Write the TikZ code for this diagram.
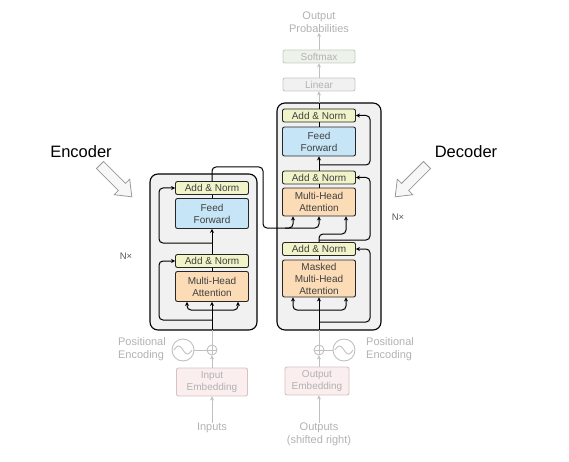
\documentclass[tikz,border=0pt]{standalone}
\usepackage{fontspec}
\setmainfont{Liberation Sans}
\usetikzlibrary{arrows.meta, calc}

\definecolor{stackfill}{HTML}{F1F1F1}
\definecolor{normfill}{HTML}{F0F4C8}
\definecolor{fffill}{HTML}{C6E5F6}
\definecolor{mhafill}{HTML}{FBDCB6}
\definecolor{ghostline}{HTML}{C0C0C0}
\definecolor{ghosttext}{HTML}{B2B2B2}
\definecolor{linfill}{HTML}{F1F1F1}
\definecolor{lindraw}{HTML}{C8C8C8}
\definecolor{softfill}{HTML}{EDF3EA}
\definecolor{softdraw}{HTML}{C5CEC2}
\definecolor{embfill}{HTML}{FBEEEE}
\definecolor{embdraw}{HTML}{D8C2C2}

\tikzset{
  layer/.style={draw=black!85, line width=0.9pt, rounded corners=2pt, inner sep=0pt,
    align=center, text=black!75, font=\fontsize{10}{12}\selectfont, minimum width=73pt},
  addnorm/.style={layer, fill=normfill, minimum height=13pt},
  ffbox/.style={layer, fill=fffill, minimum height=30pt},
  mhabox/.style={layer, fill=mhafill, minimum height=30pt},
  fadebox/.style={draw=lindraw, line width=0.9pt, rounded corners=2pt, inner sep=0pt,
    align=center, text=ghosttext, font=\fontsize{10}{12}\selectfont, minimum width=72pt},
  ghostlabel/.style={text=ghosttext, align=center, inner sep=0pt, font=\fontsize{11}{13.5}\selectfont},
  stack/.style={draw=black, line width=1.1pt, fill=stackfill, rounded corners=8pt},
  line/.style={line width=1pt},
  arr/.style={line, rounded corners=4pt, -{Stealth[length=4pt,width=4pt]}},
  ghost/.style={line, color=ghostline},
  ghostarr/.style={ghost, -{Stealth[length=4pt,width=4pt]}},
  addcirc/.style={circle, draw=ghostline, line width=0.9pt, minimum size=10pt, inner sep=0pt,
    path picture={\draw[ghostline, line width=0.8pt]
      (path picture bounding box.north) -- (path picture bounding box.south)
      (path picture bounding box.west) -- (path picture bounding box.east);}},
  pecirc/.style={circle, draw=ghostline, line width=0.9pt, minimum size=22pt, inner sep=0pt},
  nx/.style={text=black!65, font=\fontsize{9.5}{11}\selectfont},
  biglabel/.style={font=\fontsize{16.5}{19}\selectfont},
  hollow/.style={draw=black!40, fill=black!3, line width=0.8pt, line join=miter},
}

\begin{document}
\begin{tikzpicture}[x=1pt, y=-1pt]
  \useasboundingbox (0,0) rectangle (569,462);

  % the two stacks
  \draw[stack] (150,174) rectangle (257,330);
  \draw[stack] (277,103) rectangle (381,330);

  % encoder layer
  \node[addnorm] (encAN2) at (212,188) {Add \& Norm};
  \node[ffbox] (encFF) at (212,213.5) {Feed\\Forward};
  \node[addnorm] (encAN1) at (212,261) {Add \& Norm};
  \node[mhabox] (encMHA) at (212,286.5) {Multi-Head\\Attention};

  % decoder layer
  \node[addnorm] (decAN3) at (319,115.5) {Add \& Norm};
  \node[ffbox, minimum height=29pt] (decFF) at (319,141.5) {Feed\\Forward};
  \node[addnorm] (decAN2) at (319,177.5) {Add \& Norm};
  \node[mhabox, minimum height=28pt] (decMHA) at (319,202) {Multi-Head\\Attention};
  \node[addnorm] (decAN1) at (319,249) {Add \& Norm};
  \node[mhabox, minimum height=37pt] (decMMHA) at (319,278.5) {Masked\\Multi-Head\\Attention};

  % faded parts
  \node[fadebox, fill=linfill, minimum height=13pt] (linear) at (319,84.5) {Linear};
  \node[fadebox, fill=softfill, draw=softdraw, minimum height=13pt] (softmax) at (319,56.5) {Softmax};
  \node[ghostlabel] (outprob) at (319,22) {Output\\Probabilities};
  \node[fadebox, fill=embfill, draw=embdraw, minimum width=71pt, minimum height=28pt] (inemb) at (212,382) {Input\\Embedding};
  \node[fadebox, fill=embfill, draw=embdraw, minimum width=64pt, minimum height=28pt] (outemb) at (317,381) {Output\\Embedding};
  \node[ghostlabel] (inputs) at (212,428) {Inputs};
  \node[ghostlabel] (outputs) at (319,434.5) {Outputs\\(shifted right)};
  \node[addcirc] (encadd) at (212,350) {};
  \node[addcirc] (decadd) at (319,350) {};
  \node[pecirc] (encpe) at (183,350) {};
  \node[pecirc] (decpe) at (344,350) {};
  \draw[ghostline, line width=0.9pt, shift={(encpe.center)}] plot[domain=-9:9, smooth, samples=25] (\x, {4*sin(\x*20)});
  \draw[ghostline, line width=0.9pt, shift={(decpe.center)}] plot[domain=-9:9, smooth, samples=25] (\x, {4*sin(\x*20)});
  \node[ghostlabel, align=left, anchor=east] (encpetxt) at (166,349) {Positional\\Encoding};
  \node[ghostlabel, align=left, anchor=west] (decpetxt) at (366,349) {Positional\\Encoding};

  % turning points of the connectors
  \coordinate (encL) at (159,0);
  \coordinate (decR) at (370,0);
  \coordinate (encOut) at (263,167);
  \coordinate (encKV) at (0,228);
  \coordinate (decQ) at (0,234);

  % encoder flow
  \draw[ghostarr] (inputs) -- (inemb.south);
  \draw[ghostarr] (inemb.north) -- (encadd.south);
  \draw[ghost] (encpe.east) -- (encadd.west);
  \draw[ghost] (encadd.north) -- (212,330);
  \draw[arr] (212,330) -- (encMHA.south);
  \draw[arr] (212,310) -| ([xshift=-25pt]encMHA.south);
  \draw[arr] (212,310) -| ([xshift=26pt]encMHA.south);
  \draw[arr] (212,320) -| (encL |- encAN1.west) -- (encAN1.west);
  \draw[line] (encMHA.north) -- (encAN1.south);
  \draw[arr] (encAN1.north) -- (encFF.south);
  \draw[arr] (212,243) -| (encL |- encAN2.west) -- (encAN2.west);
  \draw[line] (encFF.north) -- (encAN2.south);
  \draw[arr] (encAN2.north) |- (encOut) |- (decMHA.south |- encKV) -- (decMHA.south);
  \draw[arr] (285,228) -| ([xshift=-26pt]decMHA.south);

  % decoder flow
  \draw[ghostarr] (outputs.north) -- (outputs.north |- outemb.south);
  \draw[ghostarr] (outemb.north -| decadd) -- (decadd.south);
  \draw[ghost] (decpe.west) -- (decadd.east);
  \draw[ghost] (decadd.north) -- (319,330);
  \draw[arr] (319,330) -- (decMMHA.south);
  \draw[arr] (319,310) -| ([xshift=-26pt]decMMHA.south);
  \draw[arr] (319,310) -| ([xshift=27pt]decMMHA.south);
  \draw[arr] (319,322) -| (decR |- decAN1.east) -- (decAN1.east);
  \draw[line] (decMMHA.north) -- (decAN1.south);
  \draw[arr] (decAN1.north) |- ([xshift=27pt]decMHA.south |- decQ) -- ([xshift=27pt]decMHA.south);
  \draw[arr] (319,240) -| (decR |- decAN2.east) -- (decAN2.east);
  \draw[line] (decMHA.north) -- (decAN2.south);
  \draw[arr] (decAN2.north) -- (decFF.south);
  \draw[arr] (319,165) -| (decR |- decAN3.east) -- (decAN3.east);
  \draw[line] (decFF.north) -- (decAN3.south);
  \draw[line] (decAN3.north) -- (319,103);
  \draw[ghostarr] (319,103) -- (linear.south);
  \draw[ghostarr] (linear.north) -- (softmax.south);
  \draw[ghostarr] (softmax.north) -- (outprob.south);

  % N x and the two labels
  \node[nx] (encN) at (126,256) {N×};
  \node[nx] (decN) at (398,217) {N×};
  \node[biglabel] (enclabel) at (81,152) {Encoder};
  \node[biglabel] (declabel) at (466,152) {Decoder};
  \draw[hollow, shift={(100,165)}, rotate=-45] (0,-5) -- (31,-5) -- (31,-11) -- (45,0) -- (31,11) -- (31,5) -- (0,5) -- cycle;
  \draw[hollow, shift={(427,165)}, rotate=-135] (0,-5) -- (31,-5) -- (31,-11) -- (45,0) -- (31,11) -- (31,5) -- (0,5) -- cycle;
\end{tikzpicture}
\end{document}
